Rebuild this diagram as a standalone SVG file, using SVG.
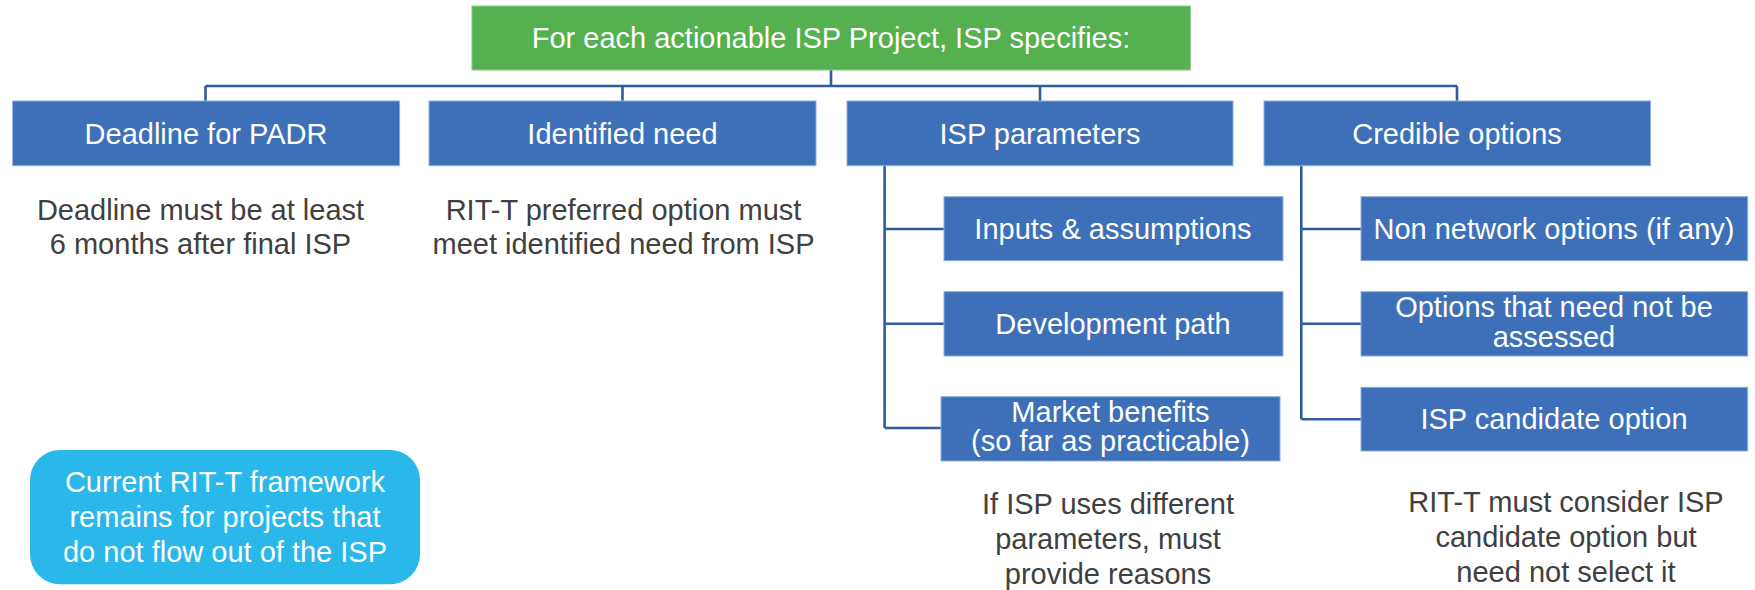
<svg xmlns="http://www.w3.org/2000/svg" width="1755" height="590" viewBox="0 0 1755 590">
<style>
text{font-family:"Liberation Sans",Arial,sans-serif;font-size:29px;text-anchor:middle}
.box{fill:#3D70B8;stroke:#8FAEDB;stroke-width:1}
.wt{fill:#FFFFFF}
.dt{fill:#404040}
.conn{fill:none;stroke:#2F5C9E;stroke-width:2.6}
</style>
<rect width="1755" height="590" fill="#FFFFFF"/>
<g id="connectors">
<path class="conn" d="M831 70 V86 M205.5 86 H1457 M205.5 86 V101 M622.5 86 V101 M1040 86 V101 M1457 86 V101"/>
<path class="conn" d="M884.6 166 V428 M884.6 229 H944 M884.6 323.8 H944 M884.6 428 H941"/>
<path class="conn" d="M1301.3 166 V419.3 M1301.3 229 H1361 M1301.3 323.8 H1361 M1301.3 419.3 H1361"/>
</g>
<g id="root">
<rect x="472" y="6" width="718.5" height="64" fill="#55B04F" stroke="#8CCB87" stroke-width="1"/>
<text class="wt" x="831" y="48">For each actionable ISP Project, ISP specifies:</text>
</g>
<g id="deadline">
<rect class="box" x="12.6" y="101" width="387" height="64.7"/>
<text class="wt" x="206" y="143.5">Deadline for PADR</text>
</g>
<g id="identified">
<rect class="box" x="429" y="101" width="387" height="64.7"/>
<text class="wt" x="622.5" y="143.5">Identified need</text>
</g>
<g id="params">
<rect class="box" x="847" y="101" width="386" height="64.7"/>
<text class="wt" x="1040" y="143.5">ISP parameters</text>
</g>
<g id="credible">
<rect class="box" x="1264" y="101" width="386.5" height="64.7"/>
<text class="wt" x="1457" y="143.5">Credible options</text>
</g>
<g id="deadline-note">
<text class="dt" x="200.5" y="220">Deadline must be at least</text>
<text class="dt" x="200.5" y="254">6 months after final ISP</text>
</g>
<g id="identified-note">
<text class="dt" x="623.5" y="220">RIT-T preferred option must</text>
<text class="dt" x="623.5" y="254">meet identified need from ISP</text>
</g>
<g id="inputs">
<rect class="box" x="944" y="196.7" width="339" height="64"/>
<text class="wt" x="1113" y="238.5">Inputs &amp; assumptions</text>
</g>
<g id="devpath">
<rect class="box" x="944" y="291.7" width="339" height="64.3"/>
<text class="wt" x="1113" y="333.5">Development path</text>
</g>
<g id="market">
<rect class="box" x="941" y="396.7" width="339" height="64.3"/>
<text class="wt" x="1110.5" y="422">Market benefits</text>
<text class="wt" x="1110.5" y="451">(so far as practicable)</text>
</g>
<g id="params-note">
<text class="dt" x="1108" y="514">If ISP uses different</text>
<text class="dt" x="1108" y="549">parameters, must</text>
<text class="dt" x="1108" y="584">provide reasons</text>
</g>
<g id="nonnetwork">
<rect class="box" x="1361" y="196.7" width="386.7" height="64"/>
<text class="wt" x="1554" y="238.5">Non network options (if any)</text>
</g>
<g id="notassessed">
<rect class="box" x="1361" y="291.7" width="386.7" height="64.3"/>
<text class="wt" x="1554" y="317">Options that need not be</text>
<text class="wt" x="1554" y="347">assessed</text>
</g>
<g id="candidate">
<rect class="box" x="1361" y="387.3" width="386.7" height="63.7"/>
<text class="wt" x="1554" y="429">ISP candidate option</text>
</g>
<g id="credible-note">
<text class="dt" x="1566" y="512">RIT-T must consider ISP</text>
<text class="dt" x="1566" y="547">candidate option but</text>
<text class="dt" x="1566" y="582">need not select it</text>
</g>
<g id="current">
<rect x="30" y="450" width="390" height="134.3" rx="30" ry="30" fill="#2AB7E9"/>
<text class="wt" x="225" y="492">Current RIT-T framework</text>
<text class="wt" x="225" y="526.5">remains for projects that</text>
<text class="wt" x="225" y="561.5">do not flow out of the ISP</text>
</g>
</svg>
